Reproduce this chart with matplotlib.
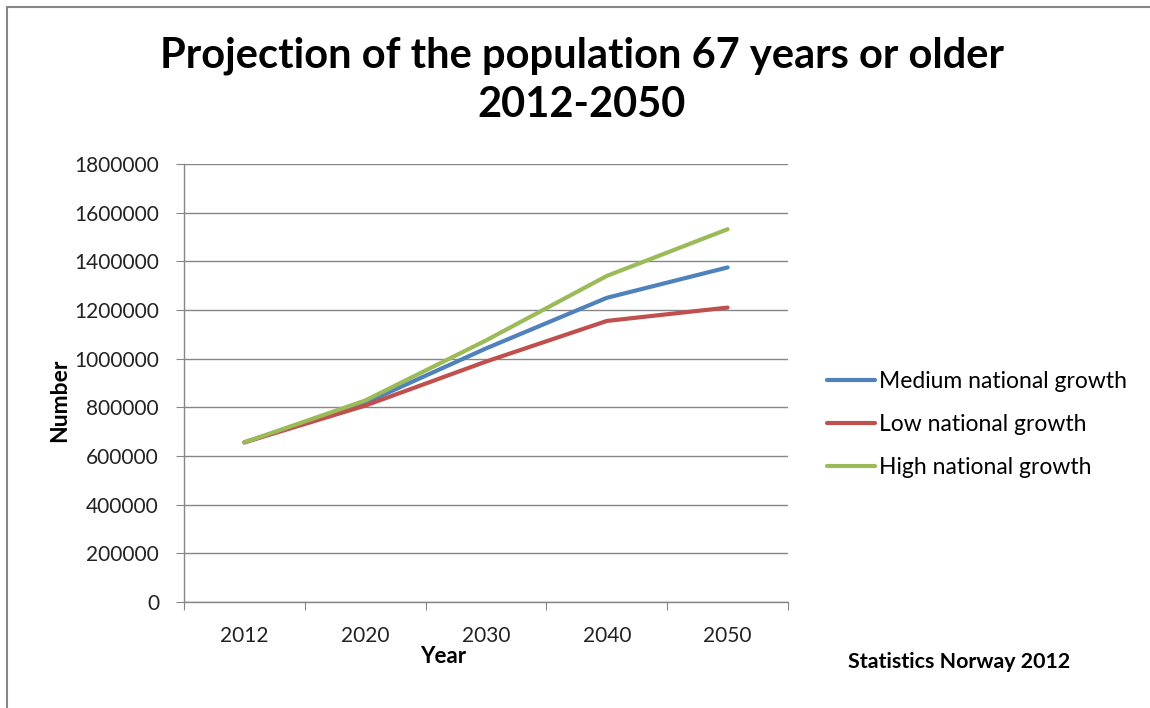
import matplotlib.pyplot as plt
from matplotlib.patches import Rectangle
from matplotlib.ticker import FixedLocator, NullFormatter

# ---------------------------------------------------------------------------
# Data
# ---------------------------------------------------------------------------
years = ['2012', '2020', '2030', '2040', '2050']
medium = [656000, 818000, 1042000, 1250000, 1375000]
low = [656000, 807000, 988000, 1155000, 1210000]
high = [656000, 828000, 1075000, 1340000, 1532000]
series_names = ['Medium national growth', 'Low national growth', 'High national growth']
y_ticks = [0, 200000, 400000, 600000, 800000, 1000000, 1200000, 1400000, 1600000, 1800000]

colors = ['#4F81BD', '#C0504D', '#9BBB59']
axis_grey = '#868686'
font = 'Lato'

# ---------------------------------------------------------------------------
# Plot
# ---------------------------------------------------------------------------
fig = plt.figure(figsize=(11.5, 7.08), dpi=100)
ax = fig.add_axes([184 / 1150, 1 - 602 / 708, 604 / 1150, 438 / 708])

# outer chart frame (Excel chart area border, cut off at right/bottom)
fig.patches.append(Rectangle((7 / 1150, -0.1), 1.2, 1 - 7 / 708 + 0.1,
                             transform=fig.transFigure, fill=False,
                             edgecolor=axis_grey, linewidth=1.5))

x = list(range(len(years)))
for vals, name, col in zip([medium, low, high], series_names, colors):
    ax.plot(x, vals, color=col, linewidth=3, label=name,
            solid_capstyle='round', zorder=3)

ax.set_xlim(-0.5, len(years) - 0.5)
ax.set_ylim(0, 1800000)
ax.set_yticks(y_ticks)
ax.set_yticklabels([str(v) for v in y_ticks], fontsize=15, family=font, color='#222222')
ax.grid(True, axis='y', color=axis_grey, linewidth=1, zorder=0)

# category axis: ticks on boundaries, labels in between
ax.xaxis.set_major_locator(FixedLocator([i - 0.5 for i in range(len(years) + 1)]))
ax.xaxis.set_major_formatter(NullFormatter())
ax.xaxis.set_minor_locator(FixedLocator(x))
ax.set_xticklabels(years, minor=True, fontsize=15, family=font, color='#222222')
ax.tick_params(axis='x', which='major', length=6, color=axis_grey, direction='out')
ax.tick_params(axis='x', which='minor', length=0, pad=17)
ax.tick_params(axis='y', length=6, color=axis_grey, pad=12)

for side in ['top', 'right']:
    ax.spines[side].set_visible(False)
for side in ['left', 'bottom']:
    ax.spines[side].set_color(axis_grey)
    ax.spines[side].set_linewidth(1)

ax.set_xlabel('Year', fontsize=16, fontweight='bold', family=font)
ax.xaxis.set_label_coords((443 - 184) / 604, -0.10)
ax.set_ylabel('Number', fontsize=16.5, fontweight='bold', family=font)
ax.yaxis.set_label_coords((70 - 184) / 604, (602 - 400) / 438)

fig.text(582 / 1150, 1 - 80 / 708, 'Projection of the population 67 years or older\n2012-2050',
         ha='center', va='center', fontsize=30, fontweight='bold', family=font,
         linespacing=1.35)

leg = ax.legend(loc='center left', bbox_to_anchor=(1.03, 0.405), frameon=False,
                prop={'family': font, 'size': 16.5}, handlelength=2.1,
                handletextpad=0.2, labelspacing=0.97)

fig.text(848 / 1150, 1 - 662 / 708, 'Statistics Norway 2012', ha='left', va='center',
         fontsize=15.4, fontweight='bold', family=font)

plt.savefig('out.png', dpi=100)
